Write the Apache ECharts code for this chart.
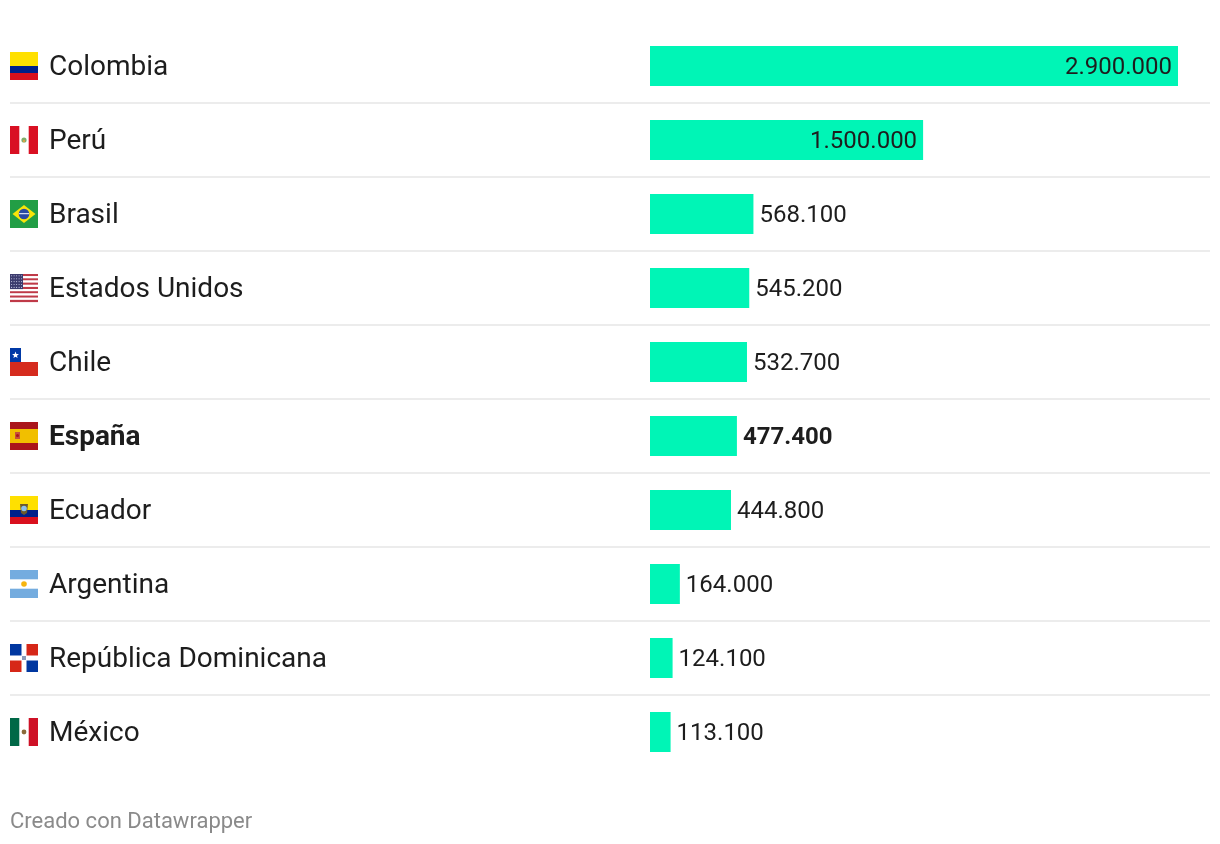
<!DOCTYPE html>
<html>
<head>
<meta charset="utf-8">
<title>Colombia, Perú, Brasil...</title>
<script src="https://cdn.jsdelivr.net/npm/echarts@6/dist/echarts.min.js"></script>
<style>
  html, body { margin: 0; padding: 0; background: #fff; }
  #chart { width: 1220px; height: 844px; }
</style>
</head>
<body>
<div id="chart"></div>
<script>
// datos
var countries = ['Colombia', 'Perú', 'Brasil', 'Estados Unidos', 'Chile', 'España', 'Ecuador', 'Argentina', 'República Dominicana', 'México'];
var values = [2900000, 1500000, 568100, 545200, 532700, 477400, 444800, 164000, 124100, 113100];
var insideLabels = ['Colombia', 'Perú'];
var highlight = 'España';

// banderas dibujadas en una caja de 28x28
function star(cx, cy, r) {
  var pts = [];
  for (var i = 0; i < 10; i++) {
    var a = -Math.PI / 2 + i * Math.PI / 5;
    var rr = i % 2 ? r * 0.42 : r;
    pts.push([cx + rr * Math.cos(a), cy + rr * Math.sin(a)]);
  }
  return pts;
}
function usFlag() {
  var s = [];
  for (var i = 0; i < 13; i++) {
    s.push({t: 'rect', x: 0, y: i * 28 / 13, w: 28, h: 28 / 13 + 0.1, c: i % 2 ? '#ffffff' : '#bf3a48'});
  }
  s.push({t: 'rect', x: 0, y: 0, w: 13, h: 15.1, c: '#3c3b6e'});
  for (var r = 0; r < 5; r++) {
    for (var k = 0; k < 5; k++) {
      s.push({t: 'circle', cx: 1.6 + k * 2.5, cy: 1.8 + r * 2.9, r: 0.55, c: '#c9cbe6'});
    }
  }
  return s;
}
var flags = {
  'Colombia': [
    {t: 'rect', x: 0, y: 0, w: 28, h: 14, c: '#ffe000'},
    {t: 'rect', x: 0, y: 14, w: 28, h: 7, c: '#00208a'},
    {t: 'rect', x: 0, y: 21, w: 28, h: 7, c: '#d9101e'}
  ],
  'Perú': [
    {t: 'rect', x: 0, y: 0, w: 28, h: 28, c: '#d91023'},
    {t: 'rect', x: 9.3, y: 0, w: 9.4, h: 28, c: '#ffffff'},
    {t: 'circle', cx: 14, cy: 14, r: 2.6, c: '#7fae6a'},
    {t: 'circle', cx: 14, cy: 15, r: 1.2, c: '#d9a34a'}
  ],
  'Brasil': [
    {t: 'rect', x: 0, y: 0, w: 28, h: 28, c: '#229e45'},
    {t: 'poly', pts: [[2.5, 14], [14, 5], [25.5, 14], [14, 23]], c: '#f8e509'},
    {t: 'circle', cx: 14, cy: 14, r: 5.3, c: '#2b49a3'},
    {t: 'rect', x: 9, y: 13.2, w: 10, h: 1, c: '#ffffff'}
  ],
  'Estados Unidos': usFlag(),
  'Chile': [
    {t: 'rect', x: 0, y: 0, w: 28, h: 14, c: '#ffffff'},
    {t: 'rect', x: 0, y: 0, w: 11, h: 14, c: '#0039a6'},
    {t: 'poly', pts: star(5.5, 7.2, 3.6), c: '#ffffff'},
    {t: 'rect', x: 0, y: 14, w: 28, h: 14, c: '#d52b1e'}
  ],
  'España': [
    {t: 'rect', x: 0, y: 0, w: 28, h: 28, c: '#aa151b'},
    {t: 'rect', x: 0, y: 7, w: 28, h: 14, c: '#f1bf00'},
    {t: 'rect', x: 5, y: 10, w: 5, h: 7, c: '#c8513a'},
    {t: 'circle', cx: 7.5, cy: 13.5, r: 1.5, c: '#aa151b'}
  ],
  'Ecuador': [
    {t: 'rect', x: 0, y: 0, w: 28, h: 14, c: '#ffe000'},
    {t: 'rect', x: 0, y: 14, w: 28, h: 7, c: '#00208a'},
    {t: 'rect', x: 0, y: 21, w: 28, h: 7, c: '#d9101e'},
    {t: 'poly', pts: [[10, 8], [18, 8], [17, 17], [14, 19], [11, 17]], c: '#6d5a2c'},
    {t: 'circle', cx: 14, cy: 12.5, r: 2.8, c: '#8fc1e8'}
  ],
  'Argentina': [
    {t: 'rect', x: 0, y: 0, w: 28, h: 28, c: '#74acdf'},
    {t: 'rect', x: 0, y: 9.3, w: 28, h: 9.4, c: '#ffffff'},
    {t: 'circle', cx: 14, cy: 14, r: 2.8, c: '#f6b40e'}
  ],
  'República Dominicana': [
    {t: 'rect', x: 0, y: 0, w: 28, h: 28, c: '#ffffff'},
    {t: 'rect', x: 0, y: 0, w: 11.5, h: 11.5, c: '#0037a0'},
    {t: 'rect', x: 16.5, y: 0, w: 11.5, h: 11.5, c: '#d62718'},
    {t: 'rect', x: 0, y: 16.5, w: 11.5, h: 11.5, c: '#d62718'},
    {t: 'rect', x: 16.5, y: 16.5, w: 11.5, h: 11.5, c: '#0037a0'},
    {t: 'rect', x: 12, y: 12, w: 4, h: 4, c: '#8a9bb8'}
  ],
  'México': [
    {t: 'rect', x: 0, y: 0, w: 28, h: 28, c: '#ffffff'},
    {t: 'rect', x: 0, y: 0, w: 9.3, h: 28, c: '#006847'},
    {t: 'rect', x: 18.7, y: 0, w: 9.3, h: 28, c: '#ce1126'},
    {t: 'circle', cx: 14, cy: 14, r: 2.4, c: '#8b6a3a'}
  ]
};

function fmt(v) {
  return String(v).replace(/\B(?=(\d{3})+(?!\d))/g, '.');
}

var barData = values.map(function (v, i) {
  var name = countries[i];
  var inside = insideLabels.indexOf(name) >= 0;
  return {
    value: v,
    label: {
      position: inside ? 'insideRight' : 'right',
      distance: 6,
      fontWeight: name === highlight ? 'bold' : 'normal'
    }
  };
});

var chart = echarts.init(document.getElementById('chart'));
var option = {
  animation: false,
  backgroundColor: '#ffffff',
  textStyle: { fontFamily: 'Roboto' },
  title: {
    text: 'Creado con Datawrapper',
    left: 10,
    top: 811,
    padding: 0,
    textStyle: { fontSize: 22, fontWeight: 'normal', color: '#8a8a8a', fontFamily: 'Roboto' }
  },
  grid: { left: 650, right: 42, top: 29, bottom: 75 },
  xAxis: {
    type: 'value',
    min: 0,
    max: 2900000,
    show: false
  },
  yAxis: {
    type: 'category',
    inverse: true,
    data: countries,
    axisLine: { show: false },
    axisTick: { show: false },
    splitLine: { show: false },
    axisLabel: {
      align: 'left',
      margin: 601,
      fontSize: 28,
      color: '#1d1d1d',
      fontFamily: 'Roboto',
      padding: [4, 0, 0, 0],
      formatter: function (v) {
        return v === highlight ? '{b|' + v + '}' : v;
      },
      rich: {
        b: { fontSize: 28, fontWeight: 'bold', color: '#1d1d1d', fontFamily: 'Roboto' }
      }
    }
  },
  series: [
    {
      type: 'custom',
      name: 'decor',
      silent: true,
      clip: false,
      z: 1,
      data: countries.map(function (c, i) { return [0, i]; }),
      encode: { x: 0, y: 1 },
      renderItem: function (params, api) {
        var idx = api.value(1);
        var pt = api.coord([0, idx]);
        var rowH = api.size([0, 1])[1];
        var cy = pt[1];
        var children = [];
        var fx = 10, fy = cy - 14;
        (flags[countries[idx]] || []).forEach(function (s) {
          if (s.t === 'rect') {
            children.push({ type: 'rect', shape: { x: fx + s.x, y: fy + s.y, width: s.w, height: s.h }, style: { fill: s.c } });
          } else if (s.t === 'circle') {
            children.push({ type: 'circle', shape: { cx: fx + s.cx, cy: fy + s.cy, r: s.r }, style: { fill: s.c } });
          } else if (s.t === 'poly') {
            children.push({ type: 'polygon', shape: { points: s.pts.map(function (p) { return [fx + p[0], fy + p[1]]; }) }, style: { fill: s.c } });
          }
        });
        if (idx < countries.length - 1) {
          var ly = cy + rowH / 2;
          children.push({ type: 'line', shape: { x1: 10, y1: ly, x2: 1210, y2: ly }, style: { stroke: '#ececec', lineWidth: 2 } });
        }
        return { type: 'group', children: children };
      }
    },
    {
      type: 'bar',
      name: 'valor',
      data: barData,
      barWidth: 40,
      z: 2,
      itemStyle: { color: '#00f5b6' },
      label: {
        show: true,
        fontSize: 24,
        color: '#1d1d1d',
        fontFamily: 'Roboto',
        offset: [0, 2],
        formatter: function (p) { return fmt(p.value); }
      }
    }
  ]
};
chart.setOption(option);
window.addEventListener('resize', function () {
  chart.resize();
});
</script>
</body>
</html>
